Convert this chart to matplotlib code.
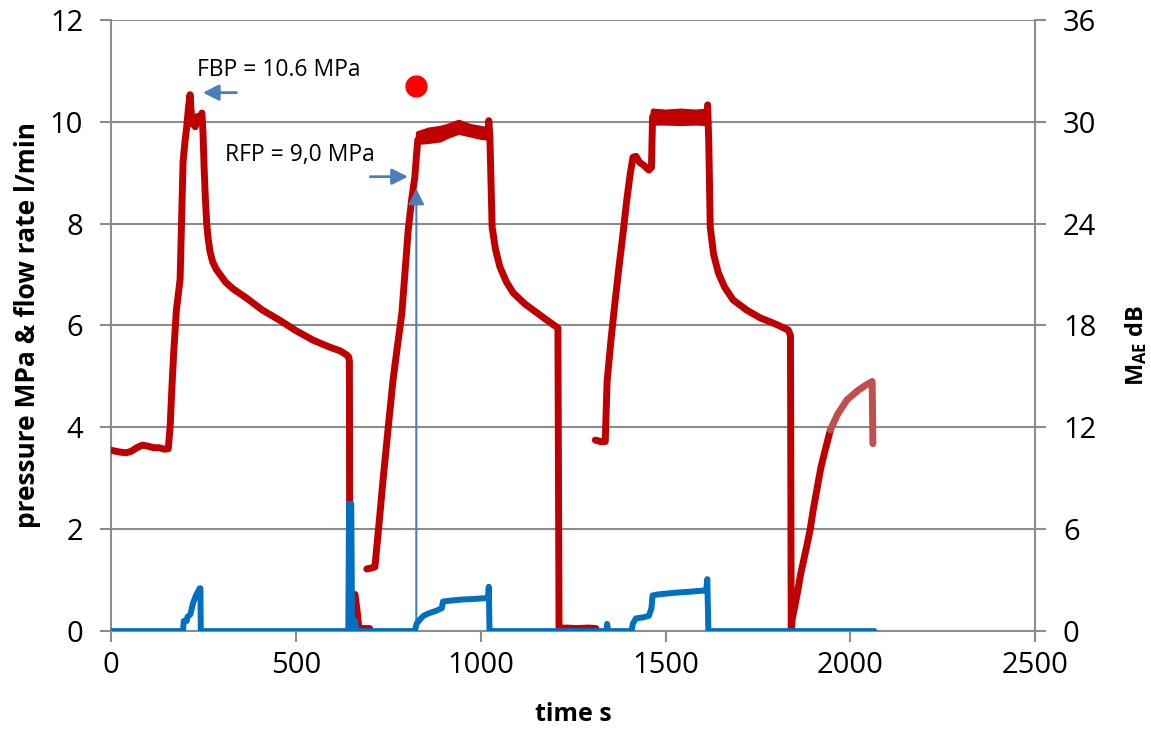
import numpy as np
import matplotlib
matplotlib.use('Agg')
import matplotlib.pyplot as plt

plt.rcParams['font.family'] = ['Open Sans', 'DejaVu Sans']
plt.rcParams['mathtext.fontset'] = 'custom'
plt.rcParams['mathtext.rm'] = 'Open Sans'
plt.rcParams['mathtext.bf'] = 'Open Sans:bold'

nan = np.nan

# pressure MPa (left axis), NaN = gap in the record
p_time = [0, 20, 40, 55, 70, 85, 100, 115, 130, 145, 155,
          160, 165, 170, 177, 187, 195, 200, 205, 210, 214, 217, 220, 224, 228, 233, 240, 246,
          249, 252, 255, 259, 263, 268, 275, 285, 295, 310, 330, 350, 368, 410, 457, 500, 547, 590, 620, 638, 643, 645,
          646, nan, 660, 665, 670, 675, 700, 701,
          692, 705, 714, 725, 736, 750, 763, 775, 787, 795, 804, 813, 822, 826, 830,
          840, 850, 860, 870, 880, 890, 900, 910, 930, 940, 950, 970, 990, 1000, 1010, 1020, 1022,
          1025, 1028, 1031, 1040, 1052, 1070, 1088, 1120, 1152, 1180, 1209, 1212,
          1213, 1230, 1260, 1290, 1312, 1313,
          1310, 1325, 1337, 1342, 1353, 1364, 1375, 1385, 1395, 1405, 1412, 1420, 1430, 1440, 1455, 1462,
          1465, 1490, 1520, 1550, 1580, 1612, 1614,
          1617, 1619, 1621, 1630, 1643, 1660, 1683, 1720, 1756, 1800, 1832, 1838,
          1840, 1843, 1850, 1858, 1865, 1880, 1891, 1900, 1910, 1920, 1930, 1946]
p_val = [3.55, 3.52, 3.5, 3.53, 3.6, 3.65, 3.63, 3.6, 3.6, 3.57, 3.58,
         4.0, 4.8, 5.5, 6.3, 6.9, 9.2, 9.6, 9.9, 10.3, 10.53, 10.2, 9.95, 10.05, 9.9, 10.1, 10.05, 10.17,
         9.78, 9.1, 8.55, 8.0, 7.7, 7.45, 7.25, 7.1, 7.0, 6.85, 6.72, 6.62, 6.53, 6.3, 6.1, 5.9, 5.71, 5.58, 5.5, 5.42, 5.38, 5.3,
         0.0, nan, 0.72, 0.45, 0.1, 0.05, 0.05, nan,
         1.22, 1.24, 1.26, 2.1, 2.97, 4.0, 4.93, 5.6, 6.25, 7.0, 7.87, 8.45, 8.92, 9.3, 9.64,
         9.72, 9.7, 9.76, 9.72, 9.75, 9.72, 9.8, 9.84, 9.86, 9.92, 9.86, 9.85, 9.82, 9.8, 9.78, 9.76, 10.02,
         9.7, 8.8, 7.93, 7.5, 7.15, 6.85, 6.64, 6.42, 6.25, 6.1, 5.95, 0.05,
         0.05, 0.06, 0.05, 0.06, 0.05, nan,
         3.75, 3.72, 3.72, 4.9, 5.75, 6.5, 7.2, 7.8, 8.45, 9.0, 9.3, 9.32, 9.2, 9.15, 9.05, 9.1,
         10.1, 10.1, 10.1, 10.1, 10.1, 10.1, 10.33,
         9.6, 8.8, 7.93, 7.4, 7.03, 6.75, 6.5, 6.3, 6.15, 6.02, 5.91, 5.8,
         0.0, 0.25, 0.5, 0.8, 1.1, 1.6, 1.98, 2.4, 2.8, 3.2, 3.5, 3.95]

# noisy plateaus drawn as bands: (time, low, high)
band2_time = [830, 860, 890, 910, 940, 970, 1000, 1022]
band2_low = [9.6, 9.62, 9.65, 9.72, 9.8, 9.75, 9.7, 9.68]
band2_high = [9.78, 9.85, 9.88, 9.92, 10.0, 9.92, 9.88, 9.85]
band3_time = [1465, 1500, 1540, 1580, 1612]
band3_low = [9.98, 9.98, 9.97, 9.98, 9.97]
band3_high = [10.22, 10.2, 10.22, 10.2, 10.22]

# last part of the recovery curve (lighter red in the original)
r_time = [1946, 1965, 1991, 2020, 2040, 2059, 2061]
r_val = [3.95, 4.25, 4.54, 4.72, 4.82, 4.9, 3.68]

# flow rate l/min (left axis)
q_time = [0, 195, 197, 205, 207, 215, 222, 230, 240, 242, 243,
          642, 644, 650, 652, 655, 660, 663, 668,
          822, 827, 835, 845, 860, 880, 895, 898, 920, 950, 980, 1020, 1022, 1024,
          1340, 1342, 1345, 1408, 1412, 1420, 1440, 1455, 1462, 1465, 1480, 1520, 1560, 1610, 1613, 1616, 2065]
q_val = [0, 0, 0.2, 0.2, 0.28, 0.33, 0.55, 0.7, 0.84, 0.84, 0,
         0, 2.5, 2.5, 0.3, 0.05, 0.2, 0.05, 0,
         0, 0.15, 0.22, 0.3, 0.35, 0.4, 0.45, 0.58, 0.6, 0.62, 0.63, 0.65, 0.87, 0,
         0, 0.14, 0, 0, 0.15, 0.25, 0.27, 0.3, 0.45, 0.7, 0.72, 0.75, 0.77, 0.8, 1.02, 0, 0]

# M_AE point (right axis, dB)
mae_time = [825]
mae_db = [32.1]

red = '#c00000'
grid_c = '#8c8c8c'
arrow_c = '#4a7ebb'
lkw = dict(solid_capstyle='round', solid_joinstyle='round')

fig = plt.figure(figsize=(11.51, 7.33), dpi=100)
ax = fig.add_axes([0.0964, 0.139, 0.803, 0.834])
ax2 = ax.twinx()

ax.plot(p_time, p_val, color=red, lw=5.0, zorder=3, **lkw)
ax.fill_between(band2_time, band2_low, band2_high, color=red, lw=3.5, ec=red, zorder=3)
ax.fill_between(band3_time, band3_low, band3_high, color=red, lw=3.5, ec=red, zorder=3)
ax.plot(r_time, r_val, color='#c0504d', lw=5.0, zorder=3, **lkw)
ax.plot(q_time, q_val, color='#0070c0', lw=4.3, zorder=4, **lkw)
ax2.plot(mae_time, mae_db, 'o', color='#ff0000', ms=15, zorder=5)

# arrows and notes
ax.annotate('', xy=(241, 10.57), xytext=(347, 10.57),
            arrowprops=dict(arrowstyle='-|>', color=arrow_c, lw=2, mutation_scale=24))
ax.annotate('', xy=(811, 8.92), xytext=(694, 8.92),
            arrowprops=dict(arrowstyle='-|>', color=arrow_c, lw=2, mutation_scale=24))
ax.annotate('', xy=(826, 8.74), xytext=(826, 0),
            arrowprops=dict(arrowstyle='-|>', color=arrow_c, lw=1.5, mutation_scale=24))
ax.text(233, 11.02, 'FBP = 10.6 MPa', fontsize=16.5, va='center', ha='left')
ax.text(308, 9.35, 'RFP = 9,0 MPa', fontsize=16.5, va='center', ha='left')

ax.set_xlim(0, 2500)
ax.set_ylim(0, 12)
ax.set_xticks(range(0, 2501, 500))
ax.set_yticks(range(0, 13, 2))
ax2.set_ylim(0, 36)
ax2.set_yticks(range(0, 37, 6))

ax.grid(axis='y', color=grid_c, lw=1.5)
ax.set_axisbelow(True)
for a in (ax, ax2):
    for s in a.spines.values():
        s.set_color(grid_c)
        s.set_linewidth(1.5)
    a.spines['top'].set_visible(False)
ax.spines['right'].set_visible(False)
ax2.spines['left'].set_visible(False)
ax2.spines['bottom'].set_visible(False)

ax.tick_params(axis='both', labelsize=21, color=grid_c, width=1.5, length=8)
ax.tick_params(axis='y', pad=12)
ax.tick_params(axis='x', pad=6)
ax2.tick_params(axis='y', labelsize=21, color=grid_c, width=1.5, length=8, pad=12)

ax.set_xlabel('time s', fontsize=18, fontweight='bold', labelpad=16)
ax.set_ylabel('pressure MPa & flow rate l/min', fontsize=19, fontweight='bold', labelpad=6)
ax2.set_ylabel(r'$\mathbf{M_{AE}}$ dB', fontsize=17, fontweight='bold')
ax2.yaxis.set_label_coords(1.095, 0.468)

fig.savefig('out.png', dpi=100)
